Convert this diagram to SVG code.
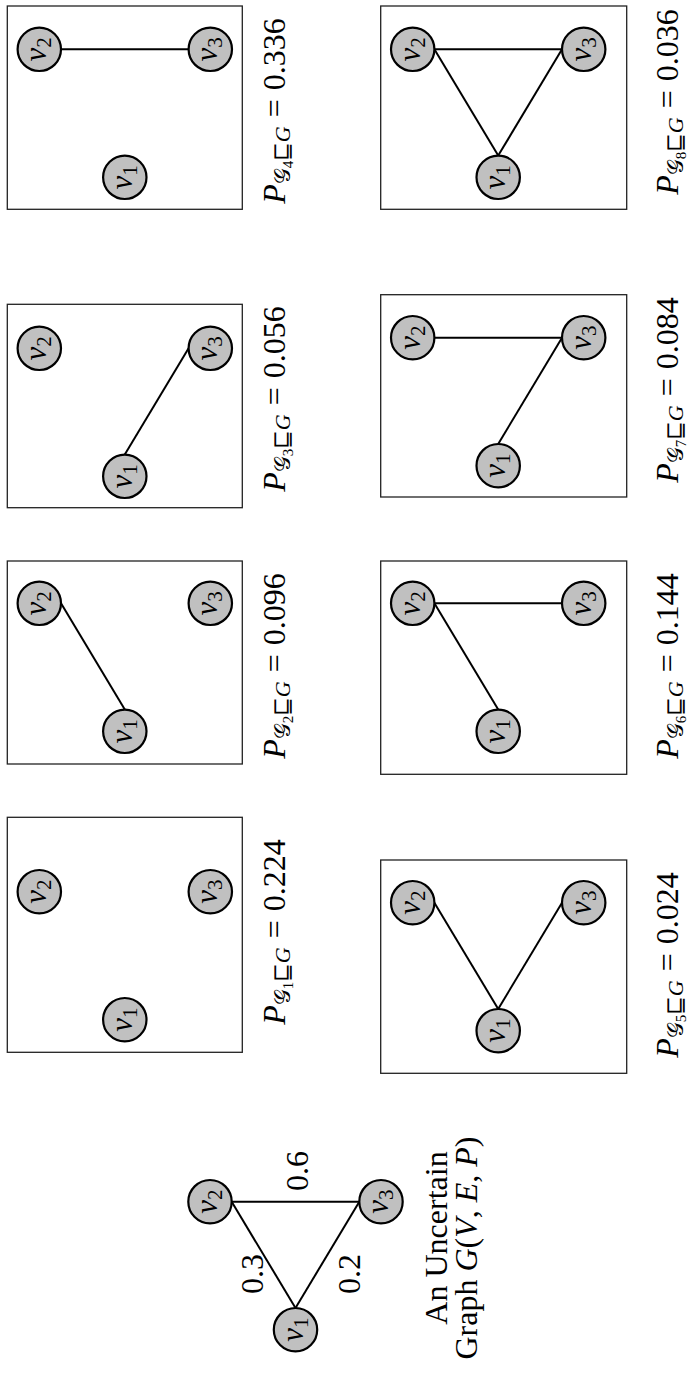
<svg xmlns="http://www.w3.org/2000/svg" width="690" height="1376" viewBox="0 0 690 1376">
<style>
.box{fill:none;stroke:#222;stroke-width:1.3}
.nd{fill:#c0c0c0;stroke:#000;stroke-width:2.2}
.edge{stroke:#000;stroke-width:2;fill:none}
.t{font-family:"Liberation Serif","DejaVu Serif",serif;font-size:32px;fill:#000}
.it{font-style:italic}
.nl{font-family:"Liberation Serif","DejaVu Serif",serif;font-size:31px;fill:#000;text-anchor:middle}
</style>
<rect width="690" height="1376" fill="#fff"/>
<g id="frames">
<rect id="box1" class="box" x="7.3" y="817.3" width="235" height="235"/>
<rect id="box2" class="box" x="7.3" y="561" width="235" height="203"/>
<rect id="box3" class="box" x="7.3" y="304.3" width="235" height="203.4"/>
<rect id="box4" class="box" x="7.3" y="6" width="235" height="203.3"/>
<rect id="box5" class="box" x="380.7" y="860" width="246" height="213.3"/>
<rect id="box6" class="box" x="380.7" y="561" width="246" height="213.3"/>
<rect id="box7" class="box" x="380.7" y="294.7" width="246" height="202.3"/>
<rect id="box8" class="box" x="380.7" y="6" width="246" height="203.3"/>
</g>
<g id="connectors" class="edge">
<line x1="231.7" y1="1201.7" x2="359.3" y2="1201.7"/>
<line x1="231.7" y1="1201.7" x2="295.5" y2="1308"/>
<line x1="359.3" y1="1201.7" x2="295.5" y2="1308"/>
<line x1="61" y1="603.3" x2="124.8" y2="709.6"/>
<line x1="188.6" y1="348.3" x2="124.8" y2="454.6"/>
<line x1="61" y1="49.3" x2="188.6" y2="49.3"/>
<line x1="434.4" y1="902.7" x2="498.2" y2="1009"/>
<line x1="562" y1="902.7" x2="498.2" y2="1009"/>
<line x1="434.4" y1="603.3" x2="498.2" y2="709.6"/>
<line x1="434.4" y1="603.3" x2="562" y2="603.3"/>
<line x1="434.4" y1="337.7" x2="562" y2="337.7"/>
<line x1="562" y1="337.7" x2="498.2" y2="444"/>
<line x1="434.4" y1="49.3" x2="562" y2="49.3"/>
<line x1="434.4" y1="49.3" x2="498.2" y2="155.6"/>
<line x1="562" y1="49.3" x2="498.2" y2="155.6"/>
</g>
<g id="main-v1"><circle class="nd" cx="295.5" cy="1329.7" r="21.7"/><text class="nl" transform="translate(295.5,1329.7) rotate(-90)" y="7"><tspan class="it">v</tspan><tspan font-size="21" dy="5">1</tspan></text></g>
<g id="main-v2"><circle class="nd" cx="210" cy="1201.7" r="21.7"/><text class="nl" transform="translate(210,1201.7) rotate(-90)" y="7"><tspan class="it">v</tspan><tspan font-size="21" dy="5">2</tspan></text></g>
<g id="main-v3"><circle class="nd" cx="381" cy="1201.7" r="21.7"/><text class="nl" transform="translate(381,1201.7) rotate(-90)" y="7"><tspan class="it">v</tspan><tspan font-size="21" dy="5">3</tspan></text></g>
<g id="b1-v2"><circle class="nd" cx="39.3" cy="891.7" r="21.7"/><text class="nl" transform="translate(39.3,891.7) rotate(-90)" y="7"><tspan class="it">v</tspan><tspan font-size="21" dy="5">2</tspan></text></g>
<g id="b1-v3"><circle class="nd" cx="210.3" cy="891.7" r="21.7"/><text class="nl" transform="translate(210.3,891.7) rotate(-90)" y="7"><tspan class="it">v</tspan><tspan font-size="21" dy="5">3</tspan></text></g>
<g id="b1-v1"><circle class="nd" cx="124.8" cy="1019.7" r="21.7"/><text class="nl" transform="translate(124.8,1019.7) rotate(-90)" y="7"><tspan class="it">v</tspan><tspan font-size="21" dy="5">1</tspan></text></g>
<g id="b2-v2"><circle class="nd" cx="39.3" cy="603.3" r="21.7"/><text class="nl" transform="translate(39.3,603.3) rotate(-90)" y="7"><tspan class="it">v</tspan><tspan font-size="21" dy="5">2</tspan></text></g>
<g id="b2-v3"><circle class="nd" cx="210.3" cy="603.3" r="21.7"/><text class="nl" transform="translate(210.3,603.3) rotate(-90)" y="7"><tspan class="it">v</tspan><tspan font-size="21" dy="5">3</tspan></text></g>
<g id="b2-v1"><circle class="nd" cx="124.8" cy="731.3" r="21.7"/><text class="nl" transform="translate(124.8,731.3) rotate(-90)" y="7"><tspan class="it">v</tspan><tspan font-size="21" dy="5">1</tspan></text></g>
<g id="b3-v2"><circle class="nd" cx="39.3" cy="348.3" r="21.7"/><text class="nl" transform="translate(39.3,348.3) rotate(-90)" y="7"><tspan class="it">v</tspan><tspan font-size="21" dy="5">2</tspan></text></g>
<g id="b3-v3"><circle class="nd" cx="210.3" cy="348.3" r="21.7"/><text class="nl" transform="translate(210.3,348.3) rotate(-90)" y="7"><tspan class="it">v</tspan><tspan font-size="21" dy="5">3</tspan></text></g>
<g id="b3-v1"><circle class="nd" cx="124.8" cy="476.3" r="21.7"/><text class="nl" transform="translate(124.8,476.3) rotate(-90)" y="7"><tspan class="it">v</tspan><tspan font-size="21" dy="5">1</tspan></text></g>
<g id="b4-v2"><circle class="nd" cx="39.3" cy="49.3" r="21.7"/><text class="nl" transform="translate(39.3,49.3) rotate(-90)" y="7"><tspan class="it">v</tspan><tspan font-size="21" dy="5">2</tspan></text></g>
<g id="b4-v3"><circle class="nd" cx="210.3" cy="49.3" r="21.7"/><text class="nl" transform="translate(210.3,49.3) rotate(-90)" y="7"><tspan class="it">v</tspan><tspan font-size="21" dy="5">3</tspan></text></g>
<g id="b4-v1"><circle class="nd" cx="124.8" cy="177.3" r="21.7"/><text class="nl" transform="translate(124.8,177.3) rotate(-90)" y="7"><tspan class="it">v</tspan><tspan font-size="21" dy="5">1</tspan></text></g>
<g id="b5-v2"><circle class="nd" cx="412.7" cy="902.7" r="21.7"/><text class="nl" transform="translate(412.7,902.7) rotate(-90)" y="7"><tspan class="it">v</tspan><tspan font-size="21" dy="5">2</tspan></text></g>
<g id="b5-v3"><circle class="nd" cx="583.7" cy="902.7" r="21.7"/><text class="nl" transform="translate(583.7,902.7) rotate(-90)" y="7"><tspan class="it">v</tspan><tspan font-size="21" dy="5">3</tspan></text></g>
<g id="b5-v1"><circle class="nd" cx="498.2" cy="1030.7" r="21.7"/><text class="nl" transform="translate(498.2,1030.7) rotate(-90)" y="7"><tspan class="it">v</tspan><tspan font-size="21" dy="5">1</tspan></text></g>
<g id="b6-v2"><circle class="nd" cx="412.7" cy="603.3" r="21.7"/><text class="nl" transform="translate(412.7,603.3) rotate(-90)" y="7"><tspan class="it">v</tspan><tspan font-size="21" dy="5">2</tspan></text></g>
<g id="b6-v3"><circle class="nd" cx="583.7" cy="603.3" r="21.7"/><text class="nl" transform="translate(583.7,603.3) rotate(-90)" y="7"><tspan class="it">v</tspan><tspan font-size="21" dy="5">3</tspan></text></g>
<g id="b6-v1"><circle class="nd" cx="498.2" cy="731.3" r="21.7"/><text class="nl" transform="translate(498.2,731.3) rotate(-90)" y="7"><tspan class="it">v</tspan><tspan font-size="21" dy="5">1</tspan></text></g>
<g id="b7-v2"><circle class="nd" cx="412.7" cy="337.7" r="21.7"/><text class="nl" transform="translate(412.7,337.7) rotate(-90)" y="7"><tspan class="it">v</tspan><tspan font-size="21" dy="5">2</tspan></text></g>
<g id="b7-v3"><circle class="nd" cx="583.7" cy="337.7" r="21.7"/><text class="nl" transform="translate(583.7,337.7) rotate(-90)" y="7"><tspan class="it">v</tspan><tspan font-size="21" dy="5">3</tspan></text></g>
<g id="b7-v1"><circle class="nd" cx="498.2" cy="465.7" r="21.7"/><text class="nl" transform="translate(498.2,465.7) rotate(-90)" y="7"><tspan class="it">v</tspan><tspan font-size="21" dy="5">1</tspan></text></g>
<g id="b8-v2"><circle class="nd" cx="412.7" cy="49.3" r="21.7"/><text class="nl" transform="translate(412.7,49.3) rotate(-90)" y="7"><tspan class="it">v</tspan><tspan font-size="21" dy="5">2</tspan></text></g>
<g id="b8-v3"><circle class="nd" cx="583.7" cy="49.3" r="21.7"/><text class="nl" transform="translate(583.7,49.3) rotate(-90)" y="7"><tspan class="it">v</tspan><tspan font-size="21" dy="5">3</tspan></text></g>
<g id="b8-v1"><circle class="nd" cx="498.2" cy="177.3" r="21.7"/><text class="nl" transform="translate(498.2,177.3) rotate(-90)" y="7"><tspan class="it">v</tspan><tspan font-size="21" dy="5">1</tspan></text></g>
<g id="edge-labels">
<text class="t" text-anchor="middle" transform="translate(308,1171) rotate(-90)">0.6</text>
<text class="t" text-anchor="middle" transform="translate(263,1274) rotate(-90)">0.3</text>
<text class="t" text-anchor="middle" transform="translate(360,1274) rotate(-90)">0.2</text>
</g>
<g id="caption">
<text class="t" text-anchor="middle" transform="translate(447,1238) rotate(-90)">An Uncertain</text>
<text class="t" text-anchor="middle" transform="translate(477,1248) rotate(-90)">Graph <tspan class="it">G</tspan>(<tspan class="it">V</tspan>, <tspan class="it">E</tspan>, <tspan class="it">P</tspan>)</text>
</g>
<g id="prob-labels">
<text class="t" text-anchor="middle" transform="translate(285,932) rotate(-90)"><tspan class="it">P</tspan><tspan font-size="22" dy="5">𝒢</tspan><tspan font-size="15" dy="3">1</tspan><tspan font-size="22" dy="-3">⊑</tspan><tspan class="it" font-size="22">G</tspan><tspan dy="-5" dx="9">=</tspan><tspan dx="9">0.224</tspan></text>
<text class="t" text-anchor="middle" transform="translate(285,666) rotate(-90)"><tspan class="it">P</tspan><tspan font-size="22" dy="5">𝒢</tspan><tspan font-size="15" dy="3">2</tspan><tspan font-size="22" dy="-3">⊑</tspan><tspan class="it" font-size="22">G</tspan><tspan dy="-5" dx="9">=</tspan><tspan dx="9">0.096</tspan></text>
<text class="t" text-anchor="middle" transform="translate(285,399) rotate(-90)"><tspan class="it">P</tspan><tspan font-size="22" dy="5">𝒢</tspan><tspan font-size="15" dy="3">3</tspan><tspan font-size="22" dy="-3">⊑</tspan><tspan class="it" font-size="22">G</tspan><tspan dy="-5" dx="9">=</tspan><tspan dx="9">0.056</tspan></text>
<text class="t" text-anchor="middle" transform="translate(285,111) rotate(-90)"><tspan class="it">P</tspan><tspan font-size="22" dy="5">𝒢</tspan><tspan font-size="15" dy="3">4</tspan><tspan font-size="22" dy="-3">⊑</tspan><tspan class="it" font-size="22">G</tspan><tspan dy="-5" dx="9">=</tspan><tspan dx="9">0.336</tspan></text>
<text class="t" text-anchor="middle" transform="translate(678,965) rotate(-90)"><tspan class="it">P</tspan><tspan font-size="22" dy="5">𝒢</tspan><tspan font-size="15" dy="3">5</tspan><tspan font-size="22" dy="-3">⊑</tspan><tspan class="it" font-size="22">G</tspan><tspan dy="-5" dx="9">=</tspan><tspan dx="9">0.024</tspan></text>
<text class="t" text-anchor="middle" transform="translate(678,666) rotate(-90)"><tspan class="it">P</tspan><tspan font-size="22" dy="5">𝒢</tspan><tspan font-size="15" dy="3">6</tspan><tspan font-size="22" dy="-3">⊑</tspan><tspan class="it" font-size="22">G</tspan><tspan dy="-5" dx="9">=</tspan><tspan dx="9">0.144</tspan></text>
<text class="t" text-anchor="middle" transform="translate(678,390) rotate(-90)"><tspan class="it">P</tspan><tspan font-size="22" dy="5">𝒢</tspan><tspan font-size="15" dy="3">7</tspan><tspan font-size="22" dy="-3">⊑</tspan><tspan class="it" font-size="22">G</tspan><tspan dy="-5" dx="9">=</tspan><tspan dx="9">0.084</tspan></text>
<text class="t" text-anchor="middle" transform="translate(678,102) rotate(-90)"><tspan class="it">P</tspan><tspan font-size="22" dy="5">𝒢</tspan><tspan font-size="15" dy="3">8</tspan><tspan font-size="22" dy="-3">⊑</tspan><tspan class="it" font-size="22">G</tspan><tspan dy="-5" dx="9">=</tspan><tspan dx="9">0.036</tspan></text>
</g>
</svg>
